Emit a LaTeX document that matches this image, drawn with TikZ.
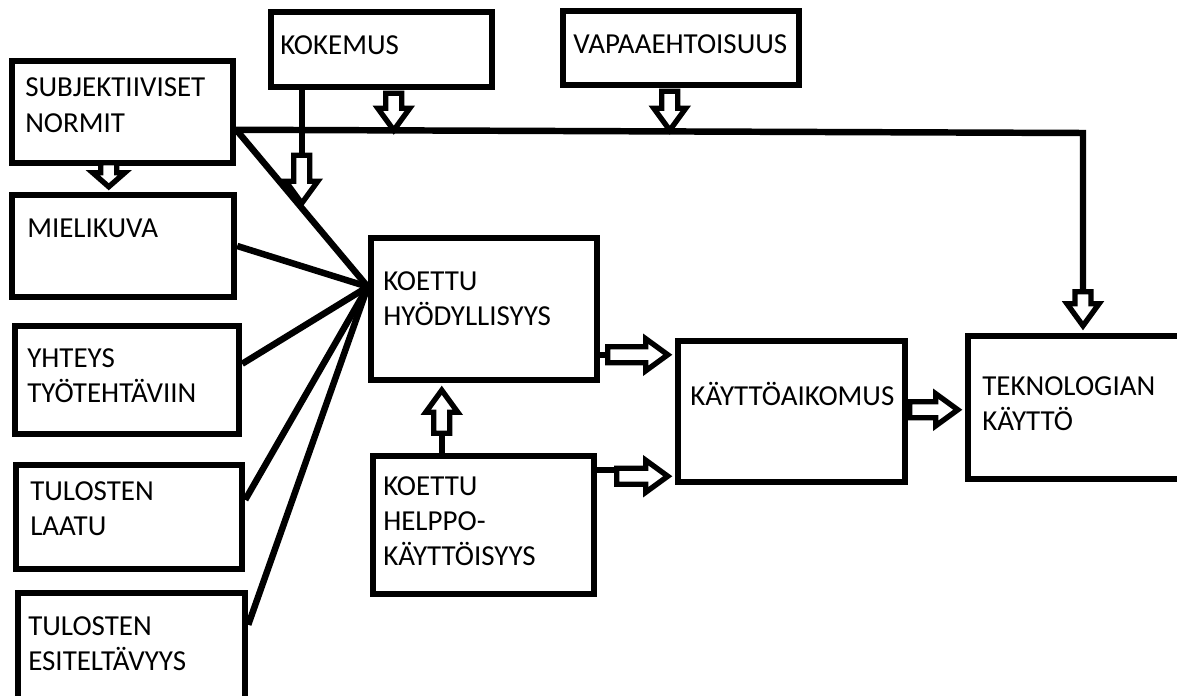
\documentclass[tikz,border=0pt]{standalone}
\usepackage{fontspec}
\setmainfont{Carlito}
\usetikzlibrary{fit,calc}

\tikzset{
  box/.style={draw,line width=4.6pt,inner sep=0pt,line join=miter},
  lbl/.style={anchor=base west,inner sep=0pt,text width=8cm,align=left,
    font=\fontsize{20.6}{25}\selectfont},
  wire/.style={line width=4.6pt},
  pics/hollow/.style args={#1/#2}{code={
    \draw[line width=3.8pt,fill=white,line join=miter]
      (0,0) -- (-#2,16) -- (-#2,8) -- (-#1,8) -- (-#1,-8) -- (-#2,-8) -- (-#2,-16) -- cycle;
  }}
}

\begin{document}
\begin{tikzpicture}[x=0.025cm,y=-0.025cm]
  \clip (0,0) rectangle (1177,696);
  % boxes
  \node[box,fit={(12,61) (233,163)}] (subj) {};
  \node[box,fit={(271,12) (492,87)}] (kok) {};
  \node[box,fit={(563,11) (799,85)}] (vap) {};
  \node[box,fit={(12,195) (234,297)}] (miel) {};
  \node[box,fit={(15,326) (239,434)}] (yht) {};
  \node[box,fit={(16,465) (242,569)}] (laatu) {};
  \node[box,fit={(18,593) (245,720)}] (esit) {};
  \node[box,fit={(371,238) (597,380)}] (hyod) {};
  \node[box,fit={(373,456) (594,594)}] (help) {};
  \node[box,fit={(678,341) (905,482)}] (kayt) {};
  \node[box,fit={(968,336) (1200,479)}] (tekn) {};

  \node[lbl] (subjT) at (25,97) {SUBJEKTIIVISET\\NORMIT};
  \node[lbl] (kokT) at (280,55) {KOKEMUS};
  \node[lbl] (vapT) at (573,54) {VAPAAEHTOISUUS};
  \node[lbl] (mielT) at (27,237) {MIELIKUVA};
  \node[lbl] (yhtT) at (27,367) {YHTEYS\\TYÖTEHTÄVIIN};
  \node[lbl] (laatuT) at (30,500) {TULOSTEN\\LAATU};
  \node[lbl] (esitT) at (28,635) {TULOSTEN\\ESITELTÄVYYS};
  \node[lbl] (hyodT) at (383,290) {KOETTU\\HYÖDYLLISYYS};
  \node[lbl] (helpT) at (383,495) {KOETTU\\HELPPO-\\KÄYTTÖISYYS};
  \node[lbl] (kaytT) at (690,405) {KÄYTTÖAIKOMUS};
  \node[lbl] (teknT) at (982,395) {TEKNOLOGIAN\\KÄYTTÖ};

  % lines into koettu hyodyllisyys
  \coordinate (hub) at ($(hyod.north west)+(0,52)$);
  \coordinate (s0) at ($(subj.north east)+(0,72)$);
  \draw[wire] (s0) -- (hub);
  \draw[wire] (miel.east) -- (hub);
  \draw[wire] ($(yht.north east)+(0,41)$) -- (hub);
  \draw[wire] ($(laatu.north east)+(0,38)$) -- (hub);
  \draw[wire] ($(esit.north east)+(0,35)$) -- (hub);

  % long line to teknologian kaytto
  \coordinate (bend) at (1083,133);
  \draw[wire] (s0) -- (bend) -- ($(bend |- tekn.north)+(0,-34)$);
  \pic[rotate=-90] at ($(bend |- tekn.north)+(0,-7)$) {hollow=34/22};

  \pic[rotate=-90] at ($(miel.north west)+(100,-5)$) {hollow=24/14};
  \pic[rotate=-90] at ($(kok.south west)+(126,40)$) {hollow=37/22};
  \pic[rotate=-90] at ($(vap.south west)+(110,42)$) {hollow=39/22};

  \draw[wire] ($(kok.south west)+(34,0)$) -- ++(0,70);
  \pic[rotate=-90] at ($(kok.south west)+(34,113)$) {hollow=48/22};

  \draw[wire] ($(help.north west)+(72,0)$) -- ++(0,-30);
  \pic[rotate=90] at ($(hyod.south west)+(74,7)$) {hollow=43/22};

  \draw[wire] ($(hyod.north east)+(0,120)$) -- ++(20,0);
  \pic at ($(kayt.north west)+(-7,17)$) {hollow=60/22};
  \draw[wire] ($(help.north east)+(0,17)$) -- ++(30,0);
  \pic at ($(kayt.south west)+(-7,-9)$) {hollow=51/22};
  \pic at ($(tekn.north west)+(-7,77)$) {hollow=48/22};
\end{tikzpicture}
\end{document}
